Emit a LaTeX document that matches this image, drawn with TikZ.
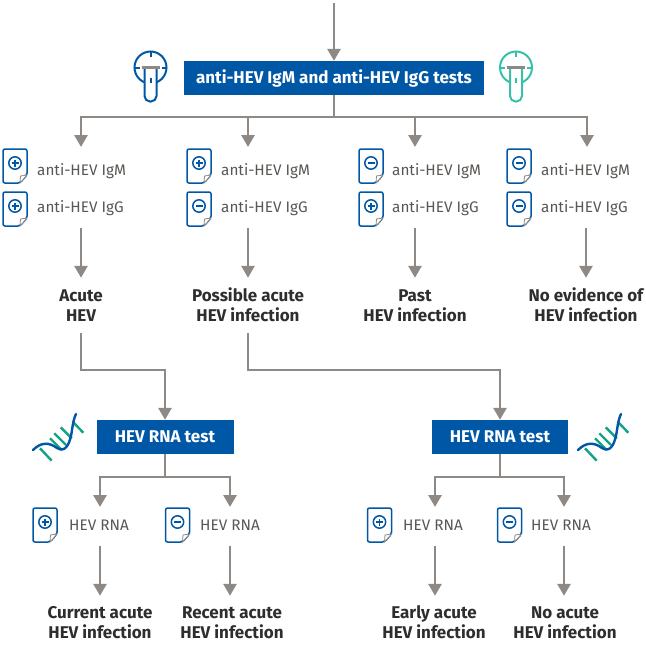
\documentclass[tikz,border=0pt]{standalone}
\usepackage{fontspec}
\setmainfont{Fira Sans}
\usetikzlibrary{arrows.meta}
\definecolor{hevblue}{HTML}{0057A6}
\definecolor{hevteal}{HTML}{38C0A8}
\definecolor{hevgreen}{HTML}{12A285}
\definecolor{hevgrey}{HTML}{8E8985}
\definecolor{hevtext}{HTML}{5A5653}
\newcommand{\twolines}[2]{\strut #1\\\strut #2}
\tikzset{
  flow/.style={draw=hevgrey,line width=2.8pt,-{Triangle[length=12pt,width=13pt]}},
  testbox/.style={fill=hevblue,text=white,font=\fontsize{17}{19}\selectfont\bfseries,inner sep=0pt,minimum height=34pt},
  marker/.style={text=hevtext,font=\fontsize{15.3}{18}\selectfont,inner sep=0pt},
  result/.style={text=black!82,font=\fontsize{17}{20}\selectfont\bfseries,align=center,inner ysep=0pt,inner xsep=0pt},
  docline/.style={draw=hevblue,line width=1.5pt,line join=round},
  sheet/.pic={
    \draw[docline,rounded corners=2pt] (0,0) -- (24,0) -- (24,26) -- (17,34) -- (0,34) -- cycle;
    \fill[white,draw=hevgrey,line width=0.8pt] (24,26) -- (17.5,27) -- (17,34) -- cycle;
    \draw[docline] (12,14) circle (6.2pt);
  },
  docplus/.pic={
    \pic {sheet};
    \draw[docline] (8.5,14) -- (15.5,14) (12,10.5) -- (12,17.5);
  },
  docminus/.pic={
    \pic {sheet};
    \draw[docline] (8.5,14) -- (15.5,14);
  },
  tube/.pic={
    \draw[line width=2pt] (0,0) circle (16pt);
    \draw[line width=2pt] (0,-16) -- (0,-11) (-16,0) -- (-11,0) (16,0) -- (11,0);
    \fill[white] (-6,0) rectangle (6,20);
    \draw[line width=2pt] (0,10) -- (0,15);
    \draw[line width=2pt,rounded corners=5.5pt] (-6,0) -- (-6,34) -- (6,34) -- (6,0);
    \draw[hevgrey,line width=2.4pt] (-9,0) -- (9,0);
  },
  helix/.pic={
    \draw[hevgreen,line width=2.4pt] (7,35.3) -- (18.7,47.7) (17,25.3) -- (28.7,37) (21.3,20.3) -- (33,32) (27.7,14.3) -- (38.7,25.3) (39.7,8.7) -- (50.3,19.7);
    \draw[hevblue,line width=2.4pt,line cap=round] (0,37) .. controls (8,29) and (16,29) .. (24,35) .. controls (32,40) and (37,32) .. (39,17) .. controls (40,10) and (41,5) .. (43,1);
  }
}
\begin{document}
\begin{tikzpicture}[x=1pt,y=-1pt]
\useasboundingbox (0,0) rectangle (646,645);
% Drawing first test
\coordinate (entry) at (334,3);
\node[testbox,minimum width=300pt] (serology) at (334,78) {anti-HEV IgM and anti-HEV IgG tests};
\draw[flow] (entry) -- (serology);
\pic[hevblue] at (150.5,67.5) {tube};
\pic[hevteal] at (516,67.5) {tube};
% Done with first test; drawing fan-out
\coordinate (barTop) at (334,117);
\coordinate (dropA) at (81,147);
\coordinate (dropB) at (248,147);
\coordinate (dropC) at (415,147);
\coordinate (dropD) at (587,147);
\draw[flow] (serology) -- (barTop) -| (dropA);
\draw[flow] (serology) -- (barTop) -| (dropB);
\draw[flow] (serology) -- (barTop) -| (dropC);
\draw[flow] (serology) -- (barTop) -| (dropD);
% Column 1: + +
\pic at (3,149) {docplus};
\pic at (3,192) {docplus};
\node[marker,anchor=west] (igmA) at (37,171) {anti-HEV IgM};
\node[marker,anchor=west] (iggA) at (37,208) {anti-HEV IgG};
% Column 2: + -
\pic at (187,149) {docplus};
\pic at (187,192) {docminus};
\node[marker,anchor=west] (igmB) at (221,171) {anti-HEV IgM};
\node[marker,anchor=west] (iggB) at (221,208) {anti-HEV IgG};
% Column 3: - +
\pic at (359,149) {docminus};
\pic at (359,192) {docplus};
\node[marker,anchor=west] (igmC) at (392,171) {anti-HEV IgM};
\node[marker,anchor=west] (iggC) at (392,208) {anti-HEV IgG};
% Column 4: - -
\pic at (507,149) {docminus};
\pic at (507,192) {docminus};
\node[marker,anchor=west] (igmD) at (541,171) {anti-HEV IgM};
\node[marker,anchor=west] (iggD) at (541,208) {anti-HEV IgG};
% Done with markers; drawing results
\coordinate (leaveA) at (81,228);
\coordinate (leaveB) at (248,228);
\coordinate (leaveC) at (415,228);
\coordinate (leaveD) at (586,228);
\node[result,minimum height=58pt] (acute) at (81,307) {\twolines{Acute}{HEV}};
\node[result,minimum height=58pt] (possible) at (248,307) {\twolines{Possible acute}{HEV infection}};
\node[result,minimum height=58pt] (past) at (415,307) {\twolines{Past}{HEV infection}};
\node[result,minimum height=58pt] (noevidence) at (586,307) {\twolines{No evidence of}{HEV infection}};
\draw[flow] (leaveA) -- (acute);
\draw[flow] (leaveB) -- (possible);
\draw[flow] (leaveC) -- (past);
\draw[flow] (leaveD) -- (noevidence);
% Drawing RNA tests
\node[testbox,minimum width=137pt] (rnaA) at (165,437) {HEV RNA test};
\node[testbox,minimum width=136pt] (rnaB) at (500,437) {HEV RNA test};
\coordinate (bendA) at (81,370);
\coordinate (bendB) at (248,370);
\draw[flow,shorten <=-3pt] (acute) -- (bendA) -| (rnaA);
\draw[flow,shorten <=-3pt] (possible) -- (bendB) -| (rnaB);
\pic at (33,413) {helix};
\pic at (578,413) {helix};
% Left RNA branch
\coordinate (barA) at (165,477);
\coordinate (dropE) at (100,507);
\coordinate (dropF) at (230,507);
\draw[flow] (rnaA) -- (barA) -| (dropE);
\draw[flow] (rnaA) -- (barA) -| (dropF);
% Right RNA branch
\coordinate (barB) at (500,477);
\coordinate (dropG) at (435,507);
\coordinate (dropH) at (564,507);
\draw[flow] (rnaB) -- (barB) -| (dropG);
\draw[flow] (rnaB) -- (barB) -| (dropH);
% Line of RNA markers
\pic at (33,508) {docplus};
\pic at (165.5,508) {docminus};
\pic at (367.5,508) {docplus};
\pic at (497.5,508) {docminus};
\node[marker,anchor=west] (rnaE) at (69,525) {HEV RNA};
\node[marker,anchor=west] (rnaF) at (200,525) {HEV RNA};
\node[marker,anchor=west] (rnaG) at (403,525) {HEV RNA};
\node[marker,anchor=west] (rnaH) at (531,525) {HEV RNA};
% Done with RNA markers; drawing ending labels
\coordinate (leaveE) at (100,546);
\coordinate (leaveF) at (230,546);
\coordinate (leaveG) at (435,546);
\coordinate (leaveH) at (564,546);
\node[result,minimum height=56pt] (current) at (100,624) {\twolines{Current acute}{HEV infection}};
\node[result,minimum height=56pt] (recent) at (232,624) {\twolines{Recent acute}{HEV infection}};
\node[result,minimum height=56pt] (early) at (434,624) {\twolines{Early acute}{HEV infection}};
\node[result,minimum height=56pt] (noacute) at (565,624) {\twolines{No acute}{HEV infection}};
\draw[flow] (leaveE) -- (leaveE |- current.north);
\draw[flow] (leaveF) -- (leaveF |- recent.north);
\draw[flow] (leaveG) -- (leaveG |- early.north);
\draw[flow] (leaveH) -- (leaveH |- noacute.north);
\end{tikzpicture}
\end{document}
